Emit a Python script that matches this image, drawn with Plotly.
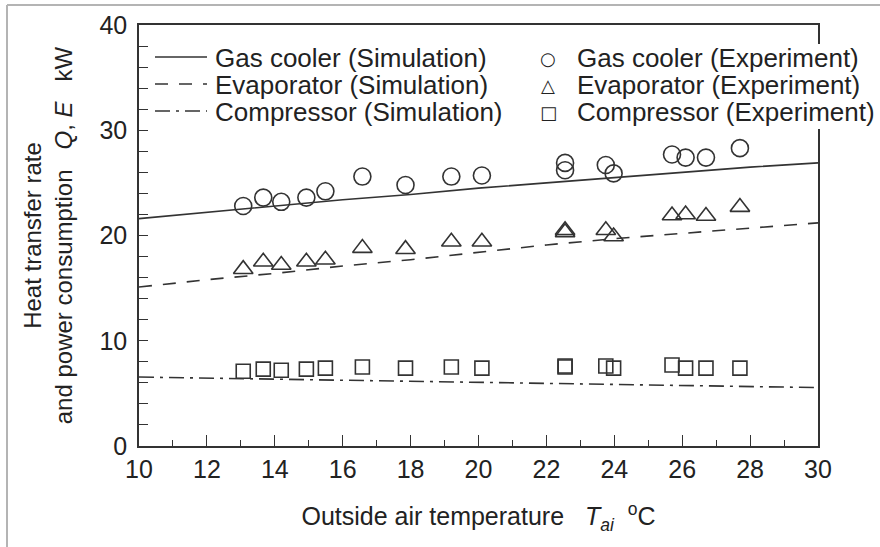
import plotly.graph_objects as go

# Outside air temperature for the simulation curves (°C)
t_sim = [10, 12, 14, 16, 18, 20, 22, 24, 26, 28, 30]
gc_sim = [21.6, 22.2, 22.8, 23.4, 23.9, 24.5, 25.0, 25.5, 26.0, 26.5, 26.9]
ev_sim = [15.1, 15.8, 16.4, 17.1, 17.7, 18.4, 19.1, 19.7, 20.2, 20.7, 21.2]
cp_sim = [6.55, 6.45, 6.35, 6.25, 6.15, 6.05, 5.95, 5.85, 5.75, 5.65, 5.55]

# Measured points (°C, kW)
t_exp = [13.07, 13.66, 14.19, 14.93, 15.49, 16.58, 17.85, 19.2, 20.1,
         22.55, 22.55, 23.75, 23.98, 25.7, 26.1, 26.7, 27.7]
gc_exp = [22.8, 23.6, 23.2, 23.6, 24.2, 25.6, 24.8, 25.6, 25.7,
          26.9, 26.2, 26.7, 25.9, 27.7, 27.4, 27.4, 28.3]
ev_exp = [16.8, 17.5, 17.2, 17.5, 17.7, 18.8, 18.7, 19.4, 19.4,
          20.5, 20.3, 20.5, 19.9, 21.9, 22.0, 21.85, 22.7]
cp_exp = [7.1, 7.3, 7.2, 7.3, 7.4, 7.5, 7.4, 7.5, 7.4,
          7.6, 7.5, 7.6, 7.4, 7.7, 7.4, 7.4, 7.4]

x_ticks = [10, 12, 14, 16, 18, 20, 22, 24, 26, 28, 30]
y_ticks = [0, 10, 20, 30, 40]

sim_labels = ["Gas cooler (Simulation)", "Evaporator (Simulation)", "Compressor (Simulation)"]
exp_labels = ["Gas cooler (Experiment)", "Evaporator (Experiment)", "Compressor (Experiment)"]
exp_glyphs = ["\u25cb", "\u25b3", "\u25a1"]

INK = "#333333"
FONT = "Liberation Sans, Arial, Helvetica, sans-serif"
DASHES = ["solid", "13px,11px", "15px,6px,3px,6px"]
SYMBOLS = ["circle-open", "triangle-up-open", "square-open"]
SIZES = [17, 17, 14]

fig = go.Figure()
for ys, dash in zip([gc_sim, ev_sim, cp_sim], DASHES):
    fig.add_trace(go.Scatter(x=t_sim, y=ys, mode="lines", showlegend=False,
                             line=dict(color=INK, width=1.6, dash=dash),
                             hoverinfo="skip"))
for ys, sym, sz in zip([gc_exp, ev_exp, cp_exp], SYMBOLS, SIZES):
    fig.add_trace(go.Scatter(x=t_exp, y=ys, mode="markers", showlegend=False,
                             marker=dict(symbol=sym, size=sz, color=INK,
                                         line=dict(color=INK, width=1.6))))

# Figure geometry in pixels, used to place the key and the page frame
W, H = 880, 547
L, R, T, B = 139, 62, 25, 101
pw, ph = W - L - R, H - T - B


def px(xp):
    return (xp - L) / pw


def py(yp):
    return (H - B - yp) / ph


shapes = []
annotations = []

# white backing behind the key's right column (it runs past the right axis)
shapes.append(dict(type="rect", xref="paper", yref="paper", layer="above",
                   x0=px(565), x1=px(W + 5), y0=py(129), y1=py(44),
                   fillcolor="white", line=dict(width=0)))

row_y = [57, 84, 111]
for i in range(3):
    shapes.append(dict(type="line", xref="paper", yref="paper",
                       x0=px(155), x1=px(207), y0=py(row_y[i]), y1=py(row_y[i]),
                       line=dict(color=INK, width=1.6, dash=DASHES[i]), layer="above"))
    annotations.append(dict(xref="paper", yref="paper", x=px(213), y=py(row_y[i] + 1),
                            xanchor="left", yanchor="middle", showarrow=False,
                            text=sim_labels[i], font=dict(family=FONT, size=26, color="#222")))
    annotations.append(dict(xref="paper", yref="paper", x=px(548), y=py(row_y[i] + 1),
                            xanchor="center", yanchor="middle", showarrow=False,
                            text=exp_glyphs[i], font=dict(family="DejaVu Sans", size=18, color="#222")))
    annotations.append(dict(xref="paper", yref="paper", x=px(575), y=py(row_y[i] + 1),
                            xanchor="left", yanchor="middle", showarrow=False,
                            text=exp_labels[i], font=dict(family=FONT, size=26, color="#222")))

# light page frame along the top and left edges
frame = "#b4b4b4"
shapes.append(dict(type="line", xref="paper", yref="paper", x0=px(7), x1=px(W + 5),
                   y0=py(5), y1=py(5), line=dict(color=frame, width=2)))
shapes.append(dict(type="line", xref="paper", yref="paper", x0=px(7), x1=px(7),
                   y0=py(5), y1=py(H + 5), line=dict(color=frame, width=2)))

fig.update_layout(
    width=W, height=H,
    margin=dict(l=L, r=R, t=T, b=B),
    paper_bgcolor="white", plot_bgcolor="white",
    font=dict(family=FONT, size=26, color="#222"),
    shapes=shapes, annotations=annotations,
    xaxis=dict(range=[10, 30], tickvals=x_ticks, ticks="inside", ticklen=11,
               tickwidth=1.3, tickcolor=INK, showline=True, linecolor=INK,
               linewidth=1.6, mirror=True, showgrid=False, zeroline=False,
               minor=dict(dtick=1, ticks="inside", ticklen=6, tickwidth=1.3,
                          tickcolor=INK, showgrid=False),
               ticklabelstandoff=0,
               tickfont=dict(size=25),
               title=dict(text="Outside air temperature\u00a0\u00a0\u00a0<i>T</i><sub><i>ai</i></sub>"
                               "\u00a0\u00a0<sup>o</sup>C",
                          font=dict(size=25), standoff=26)),
    yaxis=dict(range=[0, 40], tickvals=y_ticks, ticks="inside", ticklen=9,
               tickwidth=1.3, tickcolor=INK, showline=True, linecolor=INK,
               linewidth=1.6, mirror=True, showgrid=False, zeroline=False,
               minor=dict(dtick=2, ticks="inside", ticklen=9, tickwidth=1.3,
                          tickcolor=INK, showgrid=False),
               ticklabelstandoff=5,
               tickfont=dict(size=25),
               title=dict(text="Heat transfer rate<br>and power consumption\u00a0\u00a0\u00a0"
                               "<i>Q</i>,\u00a0<i>E</i>\u00a0\u00a0\u00a0kW",
                          font=dict(size=24), standoff=20)),
)

fig.write_html("out.html")
